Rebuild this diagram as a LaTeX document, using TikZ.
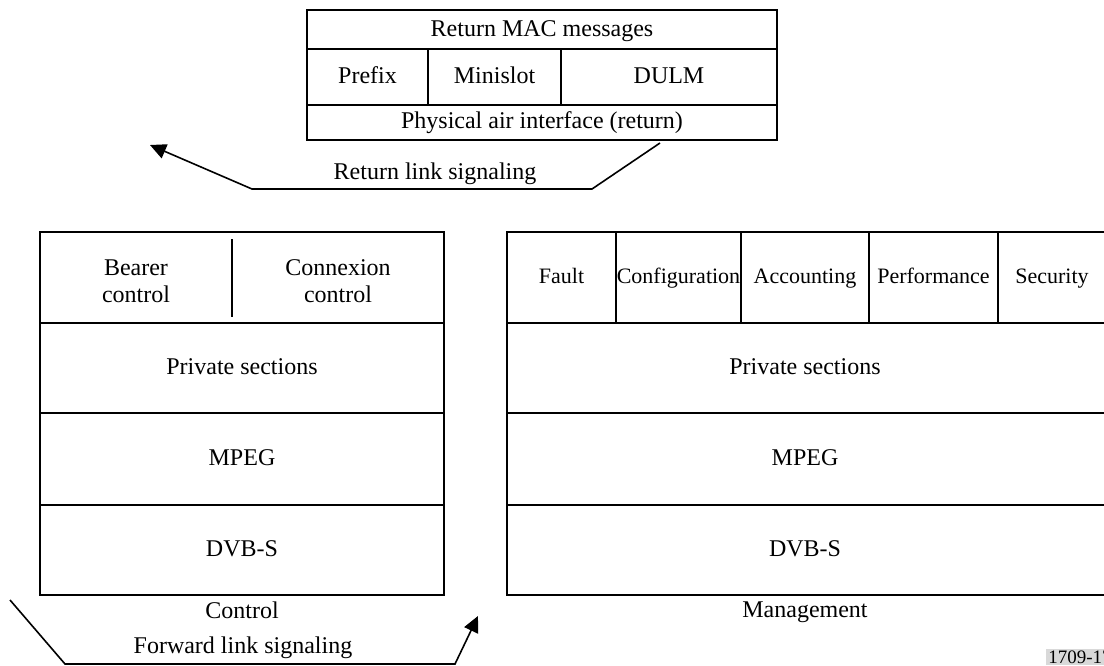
\documentclass[tikz,border=0pt]{standalone}
\usepackage{fontspec}
\setmainfont{Liberation Serif}
\usetikzlibrary{arrows.meta}

\begin{document}
\begin{tikzpicture}[x=0.5pt,y=-0.5pt]
    \tikzset{%
      box/.style={draw, line width=0.6pt},
      sep/.style={draw, line width=1.2pt},
      lbl/.style={inner sep=0pt, align=center,
        font=\fontsize{12}{13.5}\selectfont},
      row/.style={lbl, text height=0.8em, text depth=0.15em},
      small/.style={row, font=\fontsize{11}{12}\selectfont},
      sig/.style={draw, line width=0.8pt,
        -{Triangle[length=8pt,width=7.5pt]}},
      tag/.style={anchor=west, fill=black!15, inner sep=1pt,
        font=\fontsize{9.5}{11}\selectfont},
    }
    \useasboundingbox (0,0) rectangle (1104,665);
    \clip (0,0) rectangle (1104,665);

    % return link stack
    \draw[box] (307,10) rectangle (777,140);
    \draw[sep] (307,49) -- (777,49);
    \draw[box] (307,105) -- (777,105);
    \draw[box] (428,49) -- (428,105);
    \draw[box] (561,49) -- (561,105);
    \node[row] (mac) at (542,29.5) {Return MAC messages};
    \node[row] (prefix) at (367.5,77) {Prefix};
    \node[row] (minislot) at (494.5,77) {Minislot};
    \node[row] (dulm) at (669,77) {DULM};
    \node[row] (phy) at (542,122) {Physical air interface (return)};

    % control stack
    \draw[box] (40,232) rectangle (444,595);
    \foreach \y in {323,413,505}
      \draw[sep] (40,\y) -- (444,\y);
    \draw[box] (232,239) -- (232,317);
    \node[lbl] (bearer) at (136,281) {Bearer\\control};
    \node[lbl] (connex) at (338,281) {Connexion\\control};
    \node[row] (cpriv) at (242,368) {Private sections};
    \node[row] (cmpeg) at (242,459) {MPEG};
    \node[row] (cdvb) at (242,550) {DVB-S};
    \node[row] (ctrl) at (242,612) {Control};

    % management stack
    \draw[box] (507,232) rectangle (1108,595);
    \foreach \y in {323,413,505}
      \draw[sep] (507,\y) -- (1108,\y);
    \foreach \x in {616,741,869,998}
      \draw[box] (\x,232) -- (\x,323);
    \node[small] (fault) at (561.5,277) {Fault};
    \node[small] (config) at (678.5,277) {Configuration};
    \node[small] (acct) at (805,277) {Accounting};
    \node[small] (perf) at (933.5,277) {Performance};
    \node[small] (secu) at (1052,277) {Security};
    \node[row] (mpriv) at (805,368) {Private sections};
    \node[row] (mmpeg) at (805,459) {MPEG};
    \node[row] (mdvb) at (805,550) {DVB-S};
    \node[row] (mgmt) at (805,611) {Management};

    % signaling arrows
    \coordinate (R0) at (660,143);
    \coordinate (R1) at (592,189);
    \coordinate (R2) at (252,189);
    \coordinate (R3) at (150,145);
    \draw[sig] (R0) -- (R1) -- (R2) -- (R3);
    \node[row] (ret) at (435,173) {Return link signaling};

    \coordinate (F0) at (10,600);
    \coordinate (F1) at (65,664);
    \coordinate (F2) at (455,664);
    \coordinate (F3) at (478,616);
    \draw[sig] (F0) -- (F1) -- (F2) -- (F3);
    \node[row] (fwd) at (243,647) {Forward link signaling};

    \node[tag] (fig) at (1046,657) {1709-17};
\end{tikzpicture}
\end{document}
